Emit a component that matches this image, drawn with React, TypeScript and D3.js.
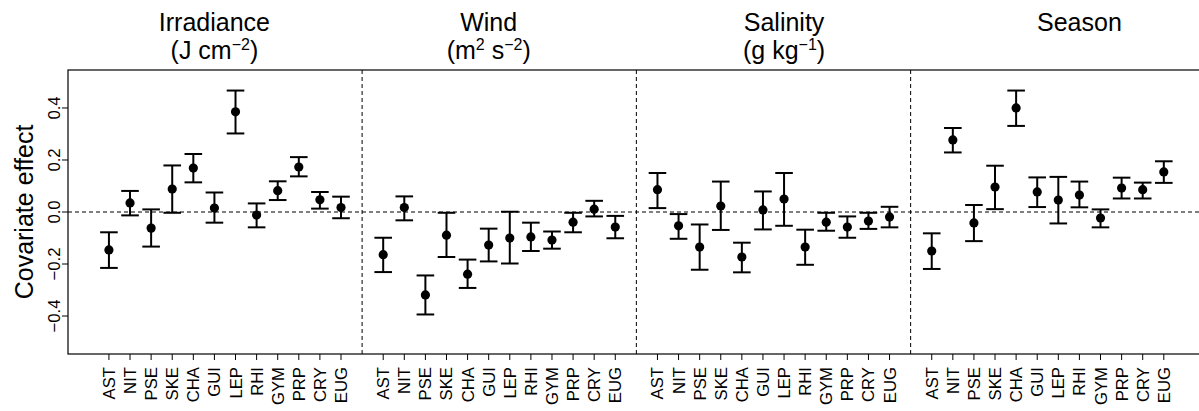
import React, { useEffect, useRef } from "react";
import * as d3 from "d3";

// taxa on the x axis, repeated in every covariate block
const taxa = ["AST", "NIT", "PSE", "SKE", "CHA", "GUI", "LEP", "RHI", "GYM", "PRP", "CRY", "EUG"];
const covariates = ["Irradiance", "Wind", "Salinity", "Season"];
// units, split into [text, superscript?] pieces
const units = [
  [["(J cm", false], ["\u22122", true], [")", false]],
  [["(m", false], ["2", true], [" s", false], ["\u22122", true], [")", false]],
  [["(g kg", false], ["\u22121", true], [")", false]],
  [],
];
// where each header sits, in x units
const titleAt = [6, 19, 33, 47];

const irrEst = [-0.146, 0.035, -0.062, 0.088, 0.169, 0.015, 0.385, -0.012, 0.082, 0.173, 0.047, 0.017];
const irrLo = [-0.215, -0.013, -0.133, -0.003, 0.114, -0.041, 0.302, -0.059, 0.046, 0.137, 0.013, -0.024];
const irrHi = [-0.078, 0.081, 0.01, 0.179, 0.223, 0.075, 0.467, 0.033, 0.118, 0.211, 0.077, 0.059];

const windEst = [-0.164, 0.017, -0.319, -0.089, -0.239, -0.127, -0.1, -0.096, -0.108, -0.039, 0.011, -0.058];
const windLo = [-0.231, -0.032, -0.394, -0.173, -0.292, -0.19, -0.198, -0.15, -0.141, -0.078, -0.017, -0.101];
const windHi = [-0.099, 0.06, -0.244, -0.003, -0.183, -0.064, 0.001, -0.041, -0.075, -0.003, 0.043, -0.015];

const salEst = [0.086, -0.053, -0.135, 0.023, -0.173, 0.008, 0.05, -0.135, -0.039, -0.058, -0.035, -0.019];
const salLo = [0.015, -0.103, -0.222, -0.069, -0.232, -0.067, -0.053, -0.203, -0.072, -0.099, -0.065, -0.059];
const salHi = [0.15, -0.008, -0.048, 0.117, -0.118, 0.079, 0.15, -0.068, -0.003, -0.017, -0.003, 0.02];

const seasEst = [-0.15, 0.277, -0.042, 0.096, 0.4, 0.077, 0.046, 0.065, -0.023, 0.092, 0.086, 0.154];
const seasLo = [-0.219, 0.229, -0.112, 0.011, 0.331, 0.019, -0.044, 0.018, -0.059, 0.052, 0.052, 0.112];
const seasHi = [-0.082, 0.323, 0.027, 0.178, 0.467, 0.133, 0.135, 0.117, 0.01, 0.132, 0.113, 0.195];

const yTicks = [-0.4, -0.2, 0, 0.2, 0.4];

const W = 1199, H = 411;
const font = "'Liberation Sans', Arial, Helvetica, sans-serif";

export default function App() {
  const ref = useRef<SVGSVGElement>(null);

  useEffect(() => {
    const svg = d3.select(ref.current);
    svg.selectAll("*").remove();

    const plot = { left: 68, right: 1206, top: 70, bottom: 354 };

    // 12 taxa per block + one empty slot between blocks
    const x = d3.scaleLinear().domain([-0.94, 53]).range([plot.left, plot.right]);
    const y = d3.scaleLinear().domain([-0.546, 0.546]).range([plot.bottom, plot.top]);

    const series = [
      { est: irrEst, lo: irrLo, hi: irrHi },
      { est: windEst, lo: windLo, hi: windHi },
      { est: salEst, lo: salLo, hi: salHi },
      { est: seasEst, lo: seasLo, hi: seasHi },
    ];

    const rows: { pos: number; taxon: string; est: number; lo: number; hi: number }[] = [];
    series.forEach((s, i) => {
      taxa.forEach((t, j) => {
        rows.push({ pos: i * 13 + j + 1, taxon: t, est: s.est[j], lo: s.lo[j], hi: s.hi[j] });
      });
    });

    const g = svg.append("g").style("font-family", font);

    // zero line + block separators
    g.append("line")
      .attr("x1", plot.left).attr("x2", plot.right)
      .attr("y1", y(0)).attr("y2", y(0))
      .attr("stroke", "black").attr("stroke-dasharray", "4,3");
    [13, 26, 39].forEach((p) => {
      g.append("line")
        .attr("x1", x(p)).attr("x2", x(p))
        .attr("y1", plot.top).attr("y2", plot.bottom)
        .attr("stroke", "black").attr("stroke-dasharray", "4,3");
    });

    // error bars
    const bars = g.selectAll(".bar").data(rows).enter().append("g").attr("class", "bar");
    bars.append("line")
      .attr("x1", (d) => x(d.pos)).attr("x2", (d) => x(d.pos))
      .attr("y1", (d) => y(d.lo)).attr("y2", (d) => y(d.hi))
      .attr("stroke", "black").attr("stroke-width", 2);
    bars.append("line")
      .attr("x1", (d) => x(d.pos) - 8.8).attr("x2", (d) => x(d.pos) + 8.8)
      .attr("y1", (d) => y(d.hi)).attr("y2", (d) => y(d.hi))
      .attr("stroke", "black").attr("stroke-width", 2);
    bars.append("line")
      .attr("x1", (d) => x(d.pos) - 8.8).attr("x2", (d) => x(d.pos) + 8.8)
      .attr("y1", (d) => y(d.lo)).attr("y2", (d) => y(d.lo))
      .attr("stroke", "black").attr("stroke-width", 2);
    bars.append("circle")
      .attr("cx", (d) => x(d.pos)).attr("cy", (d) => y(d.est))
      .attr("r", 4.6).attr("fill", "black");

    // box
    g.append("rect")
      .attr("x", plot.left).attr("y", plot.top)
      .attr("width", plot.right - plot.left).attr("height", plot.bottom - plot.top)
      .attr("fill", "none").attr("stroke", "black").attr("stroke-width", 1.2);

    // y axis
    yTicks.forEach((v) => {
      g.append("line")
        .attr("x1", plot.left - 6).attr("x2", plot.left)
        .attr("y1", y(v)).attr("y2", y(v))
        .attr("stroke", "black");
      g.append("text")
        .attr("transform", `translate(60,${y(v)}) rotate(-90)`)
        .attr("text-anchor", "middle")
        .style("font-size", "16.7px")
        .text(d3.format(".1f")(v).replace("-", "\u2212"));
    });
    g.append("text")
      .attr("transform", `translate(33,${(plot.top + plot.bottom) / 2}) rotate(-90)`)
      .attr("text-anchor", "middle")
      .style("font-size", "25px")
      .text("Covariate effect");

    // x axis, rotated taxon labels
    rows.forEach((d) => {
      g.append("line")
        .attr("x1", x(d.pos)).attr("x2", x(d.pos))
        .attr("y1", plot.bottom).attr("y2", plot.bottom + 6)
        .attr("stroke", "black");
      g.append("text")
        .attr("transform", `translate(${x(d.pos) + 6},367) rotate(-90)`)
        .attr("text-anchor", "end")
        .style("font-size", "16.7px")
        .text(d.taxon);
    });

    // headers
    covariates.forEach((c, i) => {
      const cx = x(titleAt[i]);
      g.append("text")
        .attr("x", cx).attr("y", 30.5)
        .attr("text-anchor", "middle")
        .style("font-size", "25px")
        .text(c);
      if (!units[i].length) return;
      const t = g.append("text")
        .attr("x", cx).attr("y", 59.3)
        .attr("text-anchor", "middle")
        .style("font-size", "25px");
      let raised = false;
      units[i].forEach(([s, sup]) => {
        const span = t.append("tspan").text(s as string);
        if (sup && !raised) { span.attr("dy", -9.5).style("font-size", "16px"); raised = true; }
        else if (sup) span.style("font-size", "16px");
        else if (raised) { span.attr("dy", 9.5); raised = false; }
      });
    });
  }, []);

  return (
    <svg ref={ref} width={W} height={H}
      style={{ position: "absolute", left: 0, top: 0, background: "white" }} />
  );
}
